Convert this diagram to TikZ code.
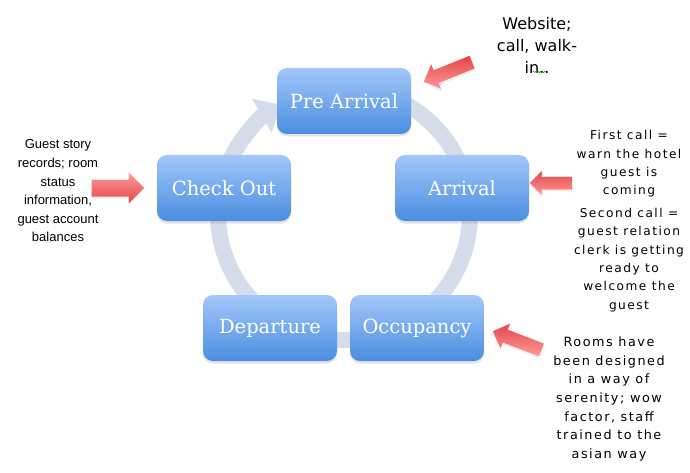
\documentclass[tikz,border=0pt]{standalone}
\usepackage{fontspec}
\setmainfont{DejaVu Serif}
\newfontfamily\dvs{DejaVu Sans}
\newfontfamily\dvsl[LetterSpace=12]{DejaVu Sans}
\newfontfamily\lsans{Liberation Sans}
\usetikzlibrary{arrows.meta,shapes.arrows,shadows,decorations.pathmorphing}
\definecolor{ringc}{HTML}{D5DDEA}
\definecolor{boxtop}{HTML}{A2C7FA}
\definecolor{boxbot}{HTML}{4A8EE0}
\definecolor{redlight}{HTML}{FF9C9C}
\definecolor{reddark}{HTML}{E34444}
\begin{document}
\begin{tikzpicture}[x=1pt,y=1pt,
  stage/.style={rounded corners=10pt, minimum width=134pt, minimum height=66pt,
    top color=boxtop, bottom color=boxbot, draw=none, text=white,
    font=\fontsize{19.5}{23}\selectfont,
    drop shadow={opacity=0.22, shadow xshift=0pt, shadow yshift=-2.5pt}},
  redarrow/.style={single arrow, draw=white, line width=0.5pt, inner xsep=0pt,
    drop shadow={opacity=0.15, shadow xshift=0pt, shadow yshift=-1.5pt}},
  lighttop/.style={top color=redlight, bottom color=reddark},
  lightbot/.style={top color=reddark, bottom color=redlight},
  note/.style={align=center, font=\dvsl\fontsize{12.2}{18.3}\selectfont},
]
\useasboundingbox[fill=white] (0,0) rectangle (690,472);

% cycle ring
\coordinate (rc) at (344,258);
\draw[ringc, line width=16pt, -{Triangle[width=38pt,length=22pt]}]
  ([shift={(60:126)}]rc) arc[start angle=60, end angle=-240, radius=126];

% stage boxes
\node[stage] (pre) at (344,371) {Pre Arrival};
\node[stage] (arr) at (462,284) {Arrival};
\node[stage] (occ) at (417,144) {Occupancy};
\node[stage] (dep) at (270,144) {Departure};
\node[stage] (chk) at (224,284) {Check Out};

% red block arrows
\coordinate (t1) at (423,390);
\node[redarrow, lightbot, minimum height=53pt, inner ysep=7pt,
  single arrow head extend=7pt, rotate=202, anchor=tip] (a1) at (t1) {};
\coordinate (t2) at (529,289);
\node[redarrow, lightbot, minimum height=43pt, inner ysep=6.5pt,
  single arrow head extend=6pt, rotate=180, anchor=tip] (a2) at (t2) {};
\coordinate (t3) at (145,284);
\node[redarrow, lighttop, minimum height=53pt, inner ysep=8.5pt,
  single arrow head extend=7.5pt, anchor=tip] (a3) at (t3) {};
\coordinate (t4) at (492,141);
\node[redarrow, lightbot, minimum height=53pt, inner ysep=7pt,
  single arrow head extend=7pt, rotate=159, anchor=tip] (a4) at (t4) {};

% texts
\node[align=center, font=\dvs\fontsize{16}{22}\selectfont] (web) at (537,427)
  {Website;\\call, walk-\\in..};
\draw[green!60!black, line width=0.5pt, decorate,
  decoration={snake, amplitude=0.6pt, segment length=2.2pt}] (533,400) -- (546,400);

\node[note] (n1) at (629,308) {First call =\\warn the hotel\\guest is\\coming};
\node[note] (n2) at (629,212) {Second call =\\guest relation\\clerk is getting\\ready to\\welcome the\\guest};
\node[align=center, font=\lsans\fontsize{13}{18.6}\selectfont] (n3) at (58,281)
  {Guest story\\records; room\\status\\information,\\guest account\\balances};
\node[align=center, font=\dvsl\fontsize{12.8}{18.7}\selectfont] (n4) at (609,73)
  {Rooms have\\been designed\\in a way of\\serenity; wow\\factor, staff\\trained to the\\asian way};
\end{tikzpicture}
\end{document}
